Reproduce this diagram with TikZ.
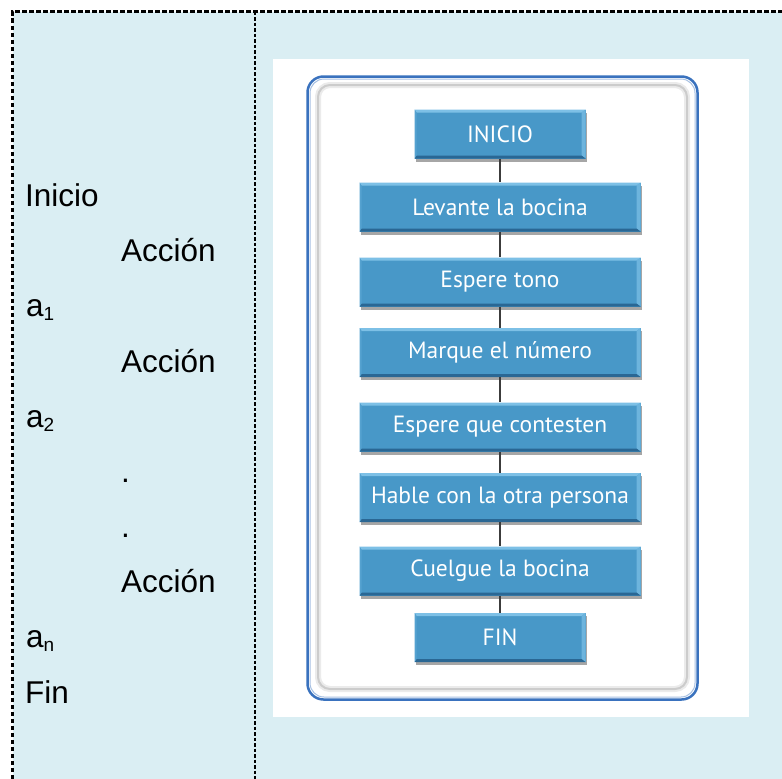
\documentclass[tikz,border=0pt]{standalone}
\usepackage{fontspec}
\setmainfont{Liberation Sans}
\newfontfamily\boxfont{PT Sans}
\usetikzlibrary{shadows}
\definecolor{bgblue}{HTML}{DAEEF3}
\definecolor{boxface}{HTML}{4898C8}
\definecolor{boxlight}{HTML}{7DC0E6}
\definecolor{boxdark}{HTML}{2A6794}
\definecolor{framblue}{HTML}{3A72BE}
\definecolor{connc}{HTML}{3C3C3C}
\newcommand\mysub[1]{\raisebox{-4pt}{\fontsize{19}{19}\selectfont #1}}
\begin{document}
\begin{tikzpicture}[x=1pt,y=-1pt,
  flowbox/.style={draw=none, fill=boxface, minimum height=49pt, inner sep=0pt,
    text=white, font=\boxfont\fontsize{23.5}{23.5}\selectfont,
    drop shadow={shadow xshift=1.5pt, shadow yshift=-3pt, opacity=0.35, fill=black},
    path picture={
      \fill[boxlight] (path picture bounding box.north west) -- (path picture bounding box.north east)
        -- ([xshift=-4pt,yshift=-3pt]path picture bounding box.north east)
        -- ([xshift=2pt,yshift=-3pt]path picture bounding box.north west) -- cycle;
      \fill[boxlight!70!boxface] (path picture bounding box.north east) -- (path picture bounding box.south east)
        -- ([xshift=-4pt,yshift=3pt]path picture bounding box.south east)
        -- ([xshift=-4pt,yshift=-3pt]path picture bounding box.north east) -- cycle;
      \fill[boxdark] (path picture bounding box.south west) -- (path picture bounding box.south east)
        -- ([xshift=-4pt,yshift=3pt]path picture bounding box.south east)
        -- ([xshift=2pt,yshift=3pt]path picture bounding box.south west) -- cycle;
      \fill[boxface!75!boxlight] (path picture bounding box.north west) -- (path picture bounding box.south west)
        -- ([xshift=2pt,yshift=3pt]path picture bounding box.south west)
        -- ([xshift=2pt,yshift=-3pt]path picture bounding box.north west) -- cycle;
    }},
  widebox/.style={flowbox, minimum width=281pt},
  narrowbox/.style={flowbox, minimum width=171pt},
  conn/.style={draw=connc, line width=2.8pt},
  txt/.style={anchor=base west, inner sep=0pt, font=\fontsize{31.5}{31.5}\selectfont},
  outerdash/.style={draw=black, line width=2.3pt, dash pattern=on 4.5pt off 2.5pt},
  innerdash/.style={draw=black, line width=1.8pt, dash pattern=on 3.5pt off 2pt},
]
\useasboundingbox (0,0) rectangle (782,779);
% background panel
\fill[bgblue] (12.5,11.5) rectangle (782,779);
% borders
\draw[outerdash] (12.5,779) -- (12.5,11.5) -- (782,11.5);
\draw[innerdash] (255,11.5) -- (255,779);
% left column text
\node[txt] (t1) at (25,206) {Inicio};
\node[txt] (t2) at (121,261.5) {Acción};
\node[txt] (t3) at (26,316.7) {a\mysub{1}};
\node[txt] (t4) at (121,372.2) {Acción};
\node[txt] (t5) at (26,427.5) {a\mysub{2}};
\node[txt] (t6) at (121,482.5) {.};
\node[txt] (t7) at (121,537.5) {.};
\node[txt] (t8) at (121,592.5) {Acción};
\node[txt] (t9) at (26,647.5) {a\mysub{n}};
\node[txt] (t10) at (25,703.3) {Fin};
% picture area
\fill[white] (273,59) rectangle (749,717);
\draw[black!8, line width=6pt, rounded corners=12pt] (318,85) rectangle (687,689);
\draw[black!20, line width=2pt, rounded corners=12pt] (318,85) rectangle (687,689);
\draw[framblue, line width=2.5pt, rounded corners=16pt] (307.5,76.5) rectangle (697.5,699.5);
\draw[framblue!45, line width=1pt, rounded corners=14pt] (310,79) rectangle (695,697);
% flowchart
\node[narrowbox] (b1) at (500,134) {INICIO};
\node[widebox] (b2) at (500,207) {Levante la bocina};
\node[widebox] (b3) at (500,282) {Espere tono};
\node[widebox] (b4) at (500,352.5) {Marque el número};
\node[widebox] (b5) at (500,427) {Espere que contesten};
\node[widebox] (b6) at (500,497.5) {Hable con la otra persona};
\node[widebox] (b7) at (500,571) {Cuelgue la bocina};
\node[narrowbox] (b8) at (500,637.5) {FIN};
\draw[conn] (b1.south) -- (b2.north);
\draw[conn] (b2.south) -- (b3.north);
\draw[conn] (b3.south) -- (b4.north);
\draw[conn] (b4.south) -- (b5.north);
\draw[conn] (b5.south) -- (b6.north);
\draw[conn] (b6.south) -- (b7.north);
\draw[conn] (b7.south) -- (b8.north);
\end{tikzpicture}
\end{document}
